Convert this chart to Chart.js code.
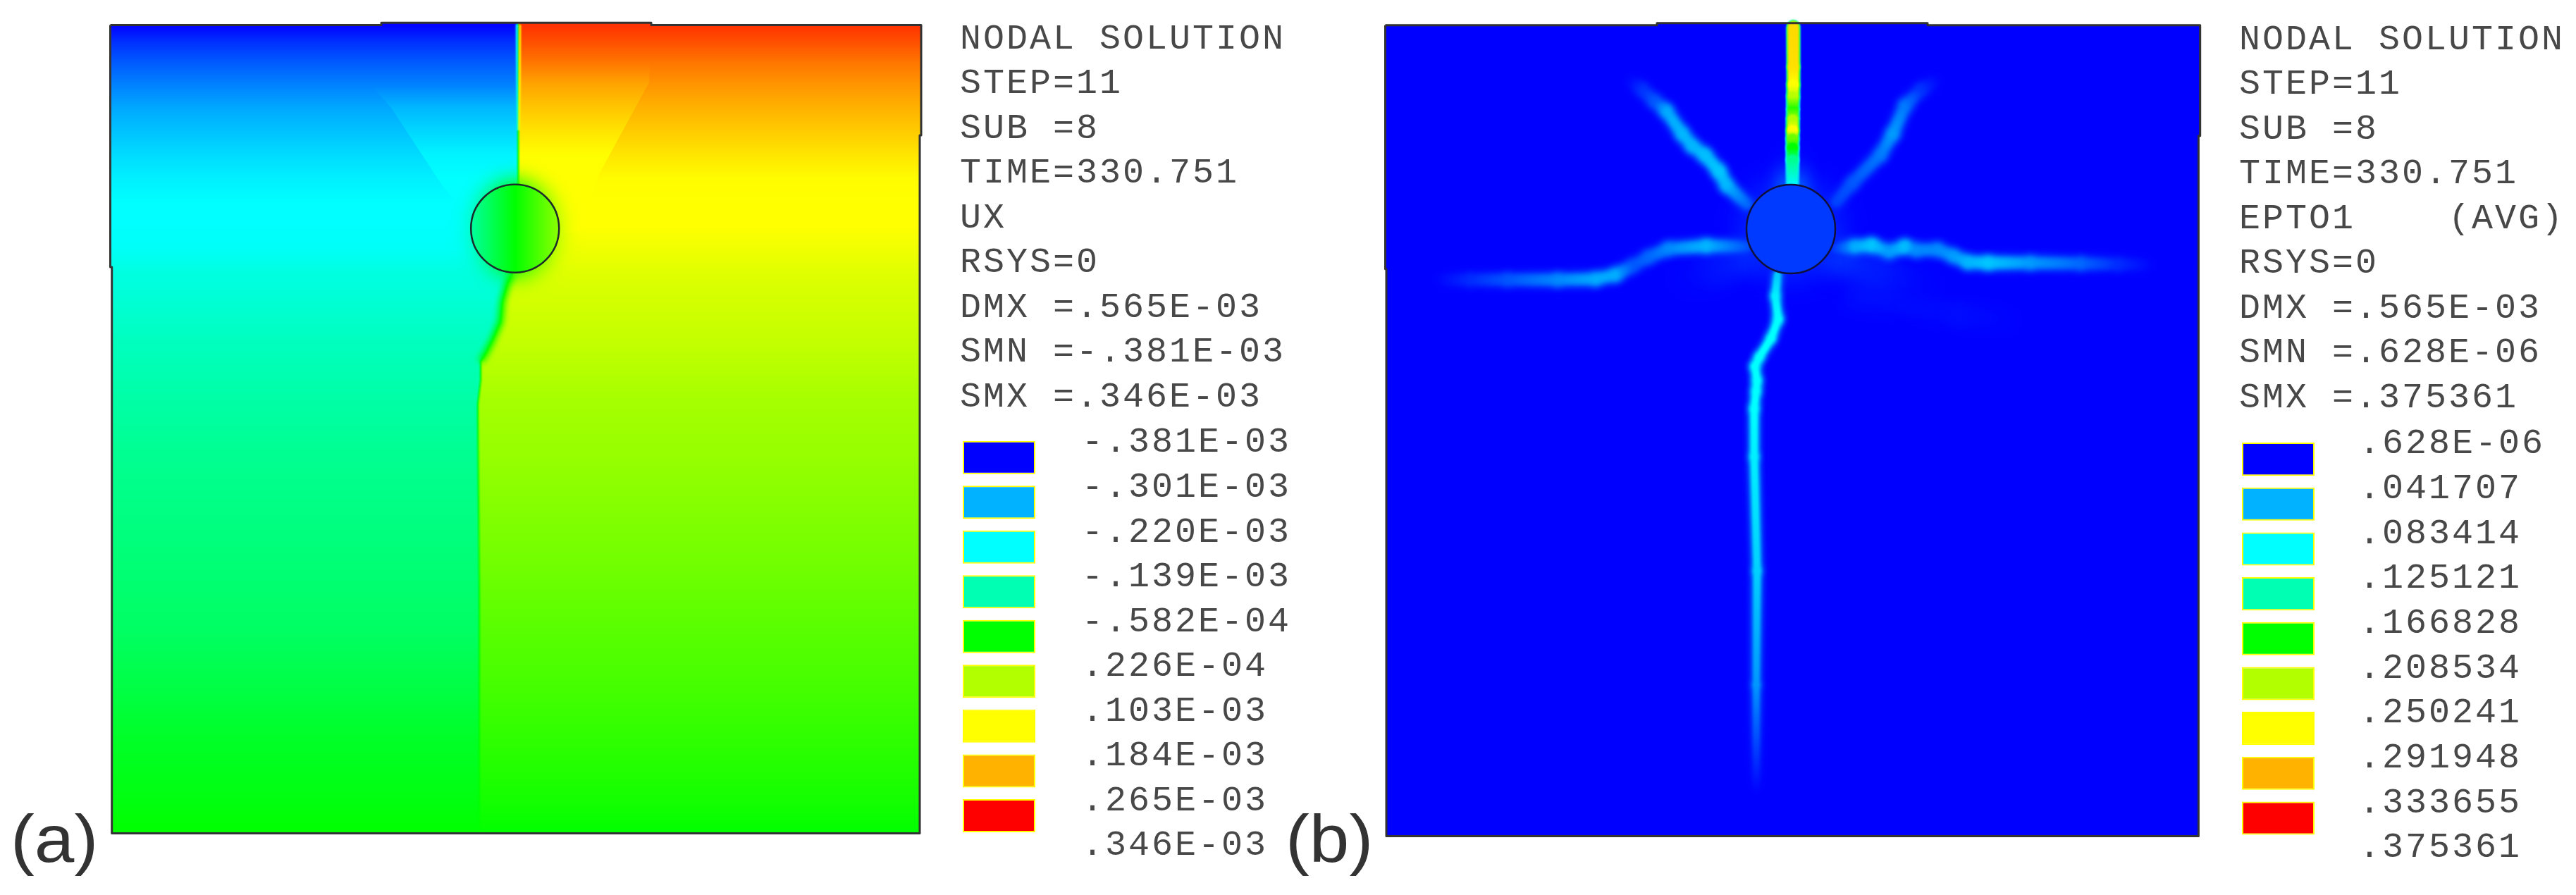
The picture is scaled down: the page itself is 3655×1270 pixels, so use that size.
<!DOCTYPE html>
<html><head><meta charset="utf-8">
<script src="https://cdn.jsdelivr.net/npm/chart.js@4"></script>
<style>
html,body{margin:0;padding:0;background:#fff;width:3655px;height:1270px;overflow:hidden}
canvas{position:absolute;display:block}
.tag{position:absolute;font:95px/95px "Liberation Sans";color:#333;top:1143px;transform:scaleX(1.07);transform-origin:left top}
</style></head><body>
<canvas id="fieldA" width="1170" height="1170" style="left:146px;top:25px"></canvas>
<canvas id="keyA" width="480" height="1260" style="left:1362px;top:0"></canvas>
<canvas id="fieldB" width="1170" height="1175" style="left:1955px;top:25px"></canvas>
<canvas id="keyB" width="476" height="1263" style="left:3177px;top:0"></canvas>
<div class="tag" style="left:15px">(a)</div>
<div class="tag" style="left:1824px">(b)</div>
<script>
// ---- text
const infoA=['NODAL SOLUTION','STEP=11','SUB =8','TIME=330.751','UX','RSYS=0','DMX =.565E-03','SMN =-.381E-03','SMX =.346E-03'];
const infoB=['NODAL SOLUTION','STEP=11','SUB =8','TIME=330.751','EPTO1    (AVG)','RSYS=0','DMX =.565E-03','SMN =.628E-06','SMX =.375361'];
const keyLabelsA=['-.381E-03','-.301E-03','-.220E-03','-.139E-03','-.582E-04','.226E-04','.103E-03','.184E-03','.265E-03','.346E-03'];
const keyLabelsB=['.628E-06','.041707','.083414','.125121','.166828','.208534','.250241','.291948','.333655','.375361'];

// ---- panel (a): UX (x 1e-3) read down the plate, on each side of the crack
const uxDepth=[0,25,52,85,118,152,185,218,252,285,318,352,370,451,532,613,694,775,856,937,1018,1099,1147];
const uxLeft=[-.381,-.356,-.336,-.315,-.295,-.270,-.240,-.217,-.199,-.197,-.190,-.163,-.158,-.122,-.102,-.091,-.084,-.076,-.068,-.053,-.037,-.025,-.017];
const uxRight=[.321,.305,.287,.270,.255,.224,.194,.168,.164,.164,.146,.128,.119,.0935,.067,.059,.049,.039,.028,.018,.0055,-.0069,-.017];
const wedgeDepth=[0,25,52,85,118,152,185,218,265];
const uxWedgeLeft=[-.381,-.356,-.336,-.315,-.283,-.245,-.212,-.199,-.199];
const wedgeDepthR=[0,25,52,85,118,152,185,218,295];
const uxWedgeRight=[.321,.305,.287,.262,.232,.195,.166,.164,.164];
// crack path through the plate
const crackX=[579,579,579.5,571,564,557,554,544,534,526,526,522,522,524,524];
const crackY=[-1,150,225,352,368,392,422,445,465,478,505,538,556,800,1146];
const nearCrackX=[571,564,557,554,544,534,526];
const nearCrackY=[352,368,392,422,445,465,478];
const topCrackCyanX=[577,577.5,578.5], topCrackYellowX=[582,581.5,580.5], topCrackY=[0,75,150];
// outlines
const outlineAX=[0.5,385,385,768,768,1151,1151,1149,1149,2.7,2.7,0.5,0.5];
const outlineAY=[0.5,0.5,-2.7,-2.7,0.5,0.5,157,157,1147.5,1147.5,344,344,0.5];
const leftPolyX=[1,385,385,579,579,579.5,571,564,557,554,544,534,526,526,522,522,524,524,3,3,1];
const leftPolyY=[1,1,-2.7,-2.7,150,225,352,368,392,422,445,465,478,505,538,556,800,1147,1147,344,344];
const rightPolyX=[579,768,768,1150,1150,1149,1149,524,524,522,522,526,526,534,544,554,557,564,571,579.5,579];
const rightPolyY=[-2.7,-2.7,1,1,157,157,1147,1147,800,556,538,505,478,465,445,422,392,368,352,225,150];
const wedgeLX=[385,355,399,474,504,579,579,385], wedgeLY=[-2.7,68,118,232,265,265,-2.7,-2.7];
const wedgeRX=[768,765,694,664,579,579,768], wedgeRY=[-2.7,82,212,295,295,-2.7,-2.7];
// hole
const holeA={x:574.7,y:289.2,r:62.5};
const holeAprofile=[3.1,4.0,4.8];     // colour-scale position across the hole, left to right
const haloAprofile=[2.3,4.0,5.5];

// ---- panel (b): EPTO1 cracks; t = position on the 0..8 colour scale
const outlineBX=[0.5,386,386,770,770,1156.7,1156.7,1154.4,1154.4,2,2,0.5,0.5];
const outlineBY=[0.7,0.7,-2.3,-2.3,0.7,0.7,157.8,157.8,1151.6,1151.6,346.7,346.7,0.7];
const holeB={x:576,y:290,r:63};
const topX=[579.3,579.6,579.6,579.3,579,578.8,578.6,578.4,578.3,578.3,578.3];
const topY=[3,60,85,102,118,135,150,162,175,192,227];
const topT=[6.5,6.4,6,5.1,4.2,5,6,4.6,4,3.2,1.9];
const lowX=[557,554,558,548,531,525,528,526.6,524,524,528,527,527];
const lowY=[355,385,418,445,472,485,505,520,545,613,775,937,1085];
const lowT=[1.3,1.8,2,2,2,2,2,2,2,1.8,1.4,.85,.03];
const ulX=[514,485,474,454,436,422,399,382,365,347];
const ulY=[255,228,208,185,172,155,122,108,92,78];
const ulT=[.6,1.1,1.3,1.2,1.1,1.1,1,.5,.3,.03];
const urX=[640,663,703,720.5,738,761,784];
const urY=[252,225,185,155,115,92,78];
const urT=[.4,.5,.7,.9,.7,.3,.03];
const hlX=[513,456,402,374,352,327,299,245,174,120,74];
const hlY=[315,314,318,330,342,355,361,362,362,362,362];
const hlT=[.5,1.1,.8,.6,.5,1,1,.8,.5,.25,.02];
const hrX=[641,666,691,715,738,754,784,806,827,856,916,988,1041,1088];
const hrY=[318,315,313,322,315,320,319,328,337,338,338,339,340,341];
const hrT=[.4,1,1.3,.9,1.2,.8,.8,.9,1.1,1.3,.9,.6,.25,.02];
const faintX=[666,756,816,881], faintY=[388,398,412,420], faintT=[.08,.07,.07,.02];
// diffuse strain around the hole, where the cracks start
const glowTopX=[578,578], glowTopY=[232,190], glowTopT=[.6,.02];
const glowSideX=[640,700,760], glowSideY=[330,350,372], glowSideT=[.3,.15,.02];
const glowWestX=[515,470,430], glowWestY=[330,345,360], glowWestT=[.25,.12,.02];

// ---- colour scale and helpers
const palette=[[0,0,255],[0,178,255],[0,255,255],[0,255,178],[0,255,0],[178,255,0],[255,255,0],[255,178,0],[255,0,0]];
const css=c=>`rgb(${c[0]},${c[1]},${c[2]})`;
function jet(t){t=Math.max(0,Math.min(8,t));const i=Math.min(7,Math.floor(t)),f=t-i,a=palette[i],b=palette[i+1];
  return `rgb(${a.map((v,k)=>Math.round(v+(b[k]-v)*f)).join(',')})`;}
const uxT=v=>(v+.381)/(.346+.381)*8;
const zip=(xs,ys)=>xs.map((x,i)=>({x,y:ys[i]}));
const FONT='"Liberation Mono"',SPACE='3px';

const fxPlugin={id:'fx',
  beforeDatasetDraw(ch,a){const d=ch.data.datasets[a.index];if(d.blur){ch.ctx.save();ch.ctx.filter=`blur(${d.blur}px)`;}},
  afterDatasetDraw(ch,a){const d=ch.data.datasets[a.index];if(d.blur){ch.ctx.restore();}}
};
function poly(xs,ys,depth,vals,toT){
  return {data:zip(xs,ys),fill:'shape',borderWidth:0,pointRadius:0,showLine:true,
    backgroundColor(c){const s=c.chart.scales.y;if(!s)return '#000';
      const y0=s.getPixelForValue(depth[0]),y1=s.getPixelForValue(depth[depth.length-1]);
      if(!isFinite(y0)||!isFinite(y1)||y0===y1)return '#000';
      const g=c.chart.ctx.createLinearGradient(0,y0,0,y1);
      depth.forEach((d,i)=>g.addColorStop((s.getPixelForValue(d)-y0)/(y1-y0),jet(toT(vals[i]))));return g;}};
}
function flat(xs,ys,color){return {data:zip(xs,ys),fill:'shape',borderWidth:0,pointRadius:0,showLine:true,backgroundColor:color};}
function stroke(xs,ys,color,width,blur){return {data:zip(xs,ys),borderColor:color,borderWidth:width,pointRadius:0,showLine:true,fill:false,blur,borderJoinStyle:'round',borderCapStyle:'butt'};}
function disc(h,R,profile,border,bw,blur,solid){
  return {data:[h],showLine:false,fill:false,blur,pointBorderColor:border,pointBorderWidth:bw,
    pointRadius(c){const s=c.chart.scales.x;if(!s)return R;const v=s.getPixelForValue(h.x+R)-s.getPixelForValue(h.x);return isFinite(v)?v:R;},
    pointBackgroundColor(c){if(solid)return solid;const s=c.chart.scales.x;if(!s)return '#000';
      const a=s.getPixelForValue(h.x-R),b=s.getPixelForValue(h.x+R);
      if(!isFinite(a)||!isFinite(b)||a===b)return '#000';
      const g=c.chart.ctx.createLinearGradient(a,0,b,0);profile.forEach((t,i)=>g.addColorStop(i/(profile.length-1),jet(t)));return g;}};
}
function crackLayer(xs,ys,ts,factor,width,blur,cap){
  return {data:zip(xs,ys),showLine:true,fill:false,pointRadius:0,borderWidth:width,blur,borderColor:jet(0),
    borderJoinStyle:'round',borderCapStyle:cap||'round',
    segment:{borderWidth:width,borderCapStyle:cap||'round',borderColor(c){
      const p0=c.p0,p1=c.p1,ctx=document.getElementById('fieldB').getContext('2d');
      if(!isFinite(p0.x)||!isFinite(p0.y)||!isFinite(p1.x)||!isFinite(p1.y))return jet(0);
      const gr=ctx.createLinearGradient(p0.x,p0.y,p1.x,p1.y);
      gr.addColorStop(0,jet(ts[c.p0DataIndex]*factor));gr.addColorStop(1,jet(ts[c.p1DataIndex]*factor));return gr;}}};
}
function field(id,sets,xmax,ymax){
  new Chart(document.getElementById(id),{type:'line',
    data:{datasets:sets.map((d,i)=>Object.assign(d,{order:-i,tension:0,clip:false}))},
    plugins:[fxPlugin],
    options:{responsive:false,animation:false,devicePixelRatio:1,events:[],
      layout:{padding:0,autoPadding:false},
      plugins:{legend:{display:false},tooltip:{enabled:false},title:{display:false}},
      scales:{x:{type:'linear',min:-10,max:xmax,display:false},y:{type:'linear',min:-10,max:ymax,reverse:true,display:false}}}});
}
function key(id,info,labels,o){
  const spacer={id:'spacing',beforeDraw(ch){ch.ctx.letterSpacing=SPACE;}};
  new Chart(document.getElementById(id),{type:'bar',
    data:{labels:[''],datasets:palette.map((c,i)=>({data:[[i+o.shift,i+o.shift+.74]],backgroundColor:css(c),borderColor:'#ffff00',borderWidth:2,
      grouped:false,barPercentage:103/111,categoryPercentage:1,clip:false,borderSkipped:false}))},
    plugins:[spacer],
    options:{responsive:false,animation:false,devicePixelRatio:1,events:[],
      layout:{padding:{left:0,right:0,top:0,bottom:60},autoPadding:false},
      plugins:{legend:{display:false},tooltip:{enabled:false},
        title:{display:true,text:info,align:'start',color:'#484848',padding:{top:o.top,bottom:o.bottom},
          font:{family:FONT,size:50,weight:'normal',lineHeight:63.5/50}}},
      scales:{x:{display:false},
        y:{type:'linear',min:0,max:9,reverse:true,position:'right',grid:{display:false,drawTicks:false},border:{display:false},
          afterFit(s){s.width=o.axis;s.paddingTop=0;s.paddingBottom=0;},
          ticks:{stepSize:1,autoSkip:false,padding:o.pad,crossAlign:'near',color:'#484848',font:{family:FONT,size:50},callback:v=>labels[v]}}}}});
}

// ---- build
field('fieldA',[
  poly(leftPolyX,leftPolyY,uxDepth,uxLeft,uxT),
  poly(rightPolyX,rightPolyY,uxDepth,uxRight,uxT),
  poly(wedgeLX,wedgeLY,wedgeDepth,uxWedgeLeft,uxT),
  poly(wedgeRX,wedgeRY,wedgeDepthR,uxWedgeRight,uxT),
  disc(holeA,70,haloAprofile,'rgba(0,0,0,0)',0,14),
  stroke(nearCrackX,nearCrackY,jet(4),9,4),
  stroke(crackX,crackY,jet(4),2.5,1),
  stroke(topCrackCyanX,topCrackY,jet(2),2.5,.8),
  stroke(topCrackYellowX,topCrackY,jet(6),2.5,.8),
  disc(holeA,62.5,holeAprofile,'#1c2a2a',2.5),
  stroke(outlineAX,outlineAY,'#333',3)
],1160,1160);

const soft=[[.5,24,5],[.85,15,3],[1,7,3]];
const cracks=[
  [faintX,faintY,faintT,[[1,30,10]]],
  [glowTopX,glowTopY,glowTopT,[[1,44,10]]],
  [glowSideX,glowSideY,glowSideT,[[1,44,14]]],
  [glowWestX,glowWestY,glowWestT,[[1,40,14]]],
  [ulX,ulY,ulT,soft],
  [urX,urY,urT,soft],
  [hlX,hlY,hlT,soft],
  [hrX,hrY,hrT,soft],
  [lowX,lowY,lowT,[[.5,16,4],[.85,11,2],[1,7,1.2]]],
  [topX,topY,topT,[[.4,20,1,'butt'],[.7,18,1,'butt'],[1,15,1,'butt']]]
];
const layersB=[flat(outlineBX,outlineBY,css(palette[0])),disc(holeB,74,null,'rgba(0,0,0,0)',0,18,jet(.2))];
cracks.forEach(([x,y,t,ls])=>ls.forEach(([f,w,b,cap])=>layersB.push(crackLayer(x,y,t,f,w,b,cap))));
layersB.push(disc(holeB,63,null,'#10103a',2.5,0,jet(.32)));
layersB.push(stroke(outlineBX,outlineBY,'#333',3));
field('fieldB',layersB,1160,1165);

key('keyA',infoA,keyLabelsA,{top:24,bottom:32.7,axis:369,pad:62,shift:-.04});
key('keyB',infoB,keyLabelsB,{top:25,bottom:33.5,axis:365,pad:59,shift:-.03});
</script>
</body></html>
